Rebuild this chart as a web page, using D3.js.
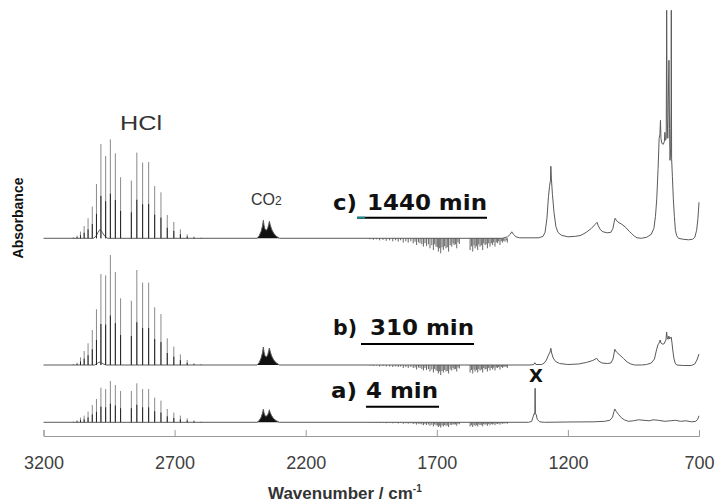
<!DOCTYPE html>
<html><head><meta charset="utf-8">
<script src="https://cdn.jsdelivr.net/npm/d3@7"></script>
<style>body{margin:0;background:#fff}</style>
</head><body>
<svg id="chart" width="716" height="504"></svg>
<script>
// ---------- data (absorbance in mAU, wavenumber in cm-1) ----------
const xTicks = [3200, 2700, 2200, 1700, 1200, 700];
const traceLabels = ["a)", "b)", "c)"];
const traceTimes = ["4 min", "310 min", "1440 min"];
const offsets = [13.7, 71, 197.7];           // stacking offsets of a, b, c

const hclPos = [3086,3072,3059,3045,3030,3014,2998,2981,2963,2945,2926,2906,2865,2844,2822,2799,2776,2752,2728,2703,2678,2652,2626,2599];
const hclA = [0.7,2,4.7,6.7,10.7,17.3,23.3,34.7,33.3,41.3,37.3,31.3,31.3,39,33.3,33.3,24.7,21.7,13.3,9.7,6.7,4,2,0.7];
const hclB = [0.7,2.3,7.7,14,21.7,35,55.7,91,89.7,110,93,66.7,64.3,95,82.3,82.3,57.7,51,26.7,18.3,10.7,5,1.7,0.7];
const hclC = [1,2.7,6.7,12.3,20,31.7,54.3,94.3,82.3,99,85,61,57.7,85.7,75.7,76.3,52.3,46,23.3,16.3,9,4,1.7,0.7];

const waterPos = [1955,1942,1930,1918,1905,1893,1880,1868,1857,1847,1838,1828,1818,1809,1799,1790,1783,1777,1770,1764,1757,1751,1745,1739,1732,1726,1719,1713,1708,1703,1698,1694,1689,1685,1680,1675,1670,1665,1660,1655,1649,1643,1638,1634,1629,1624,1619,1614,
 1573,1568,1563,1558,1554,1549,1544,1540,1535,1530,1525,1521,1516,1512,1507,1502,1497,1492,1487,1483,1478,1473,1468,1464,1459,1454,1449,1445,1440,1435,1431];
const waterA = [0.3,0.5,0.3,0.7,0.5,0.9,0.7,1,0.7,1.2,0.7,1.5,1,1.5,1,1.8,1.2,2.3,1.4,1.8,2.1,2.9,1.8,2.7,2.1,3.5,2.5,4.1,2.1,2.9,3.2,4.7,3.5,5.3,3.2,4.1,2.8,3.5,3.2,4.7,2.5,2.9,1.8,2.3,2.1,3.5,1.4,2,
 4.1,2.8,4.7,2.5,3.5,2.8,4.1,2.1,2.9,2.5,4.1,1.8,2.3,2.1,3.5,1.8,2.9,1.8,2.3,1.4,2.9,1.4,1.8,1,2.3,1,1.5,0.9,1.2,0.7,1.5];
const waterB = [0.5,1,0.5,1.5,1,1.5,1.5,2,1.5,2,1.5,3,2,3,2,3,2.5,4.5,2.5,3,4,5.5,3,5,4,6.5,4.5,7.5,4,5.5,6,8.5,6.5,10,6,7.5,5,6.5,6,8.5,4.5,5.5,3,4.5,4,6.5,2.5,3.5,
 7.5,5,8.5,4.5,6.5,5,7.5,4,5.5,4.5,7.5,3,4.5,4,6.5,3,5.5,3,4.5,2.5,5.5,2.5,3,2,4.5,2,3,1.5,2,1.5,3];
const waterC = [1,1.5,1,2,1.5,2.5,2,3,2,3.3,2,4.3,3,4.3,3,5,3.5,6.7,4,5,6,8.3,5,7.7,6,10,7,11.7,6,8.3,9,13.3,10,15,9,11.7,8,10,9,13.3,7,8.3,5,6.7,6,10,4,5.7,
 11.7,8,13.3,7,10,8,11.7,6,8.3,7,11.7,5,6.7,6,10,5,8.3,5,6.7,4,8.3,4,5,3,6.7,3,4.3,2.5,3.3,2,4.3];

const profileA = [[3200,0],[2960,0],
 [2386,0],[2378,1.5],[2370,5],[2365,9],[2361.5,13],[2359,9.5],[2355,6.5],[2350,6],[2345,7.5],[2341,10],[2338.5,12.5],[2336,10],[2330,6.5],[2322,3.5],[2312,1.5],[2300,0],
 [1350,0],[1338,1],[1332,6],[1328,9],[1326,8],[1325,34],[1324,9],[1321,8],[1317,3],[1308,0.5],[1290,0],[1200,0.3],[1100,0.5],[1060,1],[1040,2],[1030,5],[1024,11],[1021,13.3],[1016,11],[1006,7.5],[996,4.5],[985,2.5],[970,1],[950,1.5],[930,2.5],[910,2],[890,1.5],[875,2.5],[855,2],[830,1],[810,1.5],[790,2],[770,1],[750,1.5],[728,0.5],[712,1],[705,3],[700,6.5]];
const profileB = [[3200,0],[3005,0],[2990,2.5],[2983,3],[2972,1],[2960,0],
 [2386,0],[2378,2],[2370,7],[2365,12],[2361.5,18],[2359,13],[2355,9],[2350,8],[2345,10],[2341,14],[2338.5,17],[2336,14],[2330,9],[2322,5],[2312,2],[2300,0],
 [1345,0],[1330,0.5],[1326,2.3],[1322,0.5],[1300,0.5],[1290,2],[1282,5],[1274,10],[1268,13],[1265,16.7],[1262,12],[1256,7],[1247,3.5],[1232,1.5],[1200,0.5],[1160,1],[1130,2.5],[1105,4.5],[1090,6.7],[1083,4],[1070,2],[1050,1.5],[1036,2],[1028,6],[1021,15.7],[1015,13],[1002,10],[988,6.5],[974,3],[960,1],[945,0],[920,0],[900,0.5],[882,2],[870,6],[863,14],[857,20],[852,22],[848,25],[845,22],[840,21],[834,21],[830,23],[826,25],[823.5,33],[821,27],[818,25.7],[815,29],[812,26],[809,27],[806,28],[803,22],[800,15],[796,7],[791,2],[785,0],[760,-0.5],[730,-0.5],[716,1],[708,5],[700,11]];
const profileC = [[3200,0],[3010,0],[3000,2],[2992,6],[2984,9],[2976,6],[2966,2],[2955,0],
 [2386,0],[2378,2],[2370,7],[2365,12],[2361.5,18],[2359,13],[2355,9],[2350,8],[2345,10],[2341,14],[2338.5,17],[2336,14],[2330,9],[2322,5],[2312,2],[2300,0],
 [1450,0],[1430,1.5],[1420,4],[1414,6.5],[1408,4],[1398,1.5],[1385,0.5],
 [1310,0.5],[1295,2],[1287,6],[1280,20],[1274,42],[1270,52],[1266.5,58],[1265,72],[1263,60],[1259,44],[1253,26],[1246,12],[1238,6],[1225,3],[1200,1.5],[1170,2],[1150,3],[1130,6],[1110,10],[1096,14],[1089,16],[1084,12.5],[1076,8.5],[1066,6.5],[1050,5.5],[1036,6],[1028,10],[1023,17],[1020,20],[1014,17.5],[1005,15.5],[994,14],[980,11],[966,7],[956,4.5],[946,2],[936,0.5],[920,0],[900,1],[882,4],[872,10],[866,22],[861,40],[856,70],[852,100],[849,104],[847,118],[845,100],[842,95],[836,94],[832,97],[830,106],[828,98],[825,100],[823.3,228],[821.5,120],[819,100],[817,140],[814.5,178],[812.5,110],[810.5,78],[808,90],[806.5,130],[805.6,228],[804.5,80],[801.5,62],[798,40],[794,22],[790,8],[785,2.5],[778,0],[760,-1],[740,-1.5],[725,-1],[716,1],[709,8],[704,20],[700,36]];

const traces = [
  {profile: profileA, hcl: hclA, water: waterA, off: offsets[0]},
  {profile: profileB, hcl: hclB, water: waterB, off: offsets[1]},
  {profile: profileC, hcl: hclC, water: waterC, off: offsets[2]}
];

// ---------- drawing ----------
const svg = d3.select("#chart");
svg.append("rect").attr("width",716).attr("height",504).attr("fill","#fff");
const x = d3.scaleLinear().domain([3200, 700]).range([43.5, 699]);
const y = d3.scaleLinear().domain([0, 436]).range([436, 0]);

// axis
const axis = d3.axisBottom(x).tickValues(xTicks).tickSize(-6).tickPadding(20).tickFormat(d3.format("d"));
const gAxis = svg.append("g").attr("transform","translate(0,436)").call(axis);
gAxis.selectAll("path,line").attr("stroke","#9a9a9a").attr("stroke-width",1);
gAxis.selectAll("text").attr("font-family","'Liberation Sans', Arial, sans-serif").attr("font-size",18).attr("fill","#404040");

traces.forEach(t => {
  const g = svg.append("g");
  // CO2 band (filled)
  const co2 = t.profile.filter(d => d[0] <= 2386 && d[0] >= 2300);
  g.append("path").datum(co2)
    .attr("d", d3.area().x(d=>x(d[0])).y0(y(t.off)).y1(d=>y(t.off+d[1])))
    .attr("fill","#111");
  // continuous profile
  g.append("path").datum(t.profile)
    .attr("d", d3.line().x(d=>x(d[0])).y(d=>y(t.off+d[1])))
    .attr("fill","none").attr("stroke","#5a5a5a").attr("stroke-width",1);
  // HCl rotational lines
  g.selectAll(".hclUp").data(hclPos).join("line")
    .attr("x1",(d)=>x(d)).attr("x2",(d)=>x(d))
    .attr("y1", y(t.off)).attr("y2",(d,i)=>y(t.off+t.hcl[i]))
    .attr("stroke","#8a8a8a").attr("stroke-width",1);
  g.selectAll(".hclLow").data(hclPos).join("line")
    .attr("x1",(d)=>x(d)).attr("x2",(d)=>x(d))
    .attr("y1", y(t.off)).attr("y2",(d,i)=>y(t.off+t.hcl[i]*0.45))
    .attr("stroke","#222").attr("stroke-width",1);
  // water vapour residual lines (negative)
  g.selectAll(".water").data(waterPos).join("line")
    .attr("x1",(d)=>x(d)).attr("x2",(d)=>x(d))
    .attr("y1", y(t.off)).attr("y2",(d,i)=>y(t.off - t.water[i]))
    .attr("stroke","#555").attr("stroke-width",0.9);
});

// annotations
const txt = (s, xx, yy, opts={}) => {
  const el = svg.append("text").attr("x",xx).attr("y",yy).text(s)
    .attr("font-family", opts.ff || "'Liberation Sans', Arial, sans-serif")
    .attr("font-size", opts.fs || 16).attr("font-weight", opts.fw || "normal")
    .attr("fill", opts.fill || "#222").attr("text-anchor", opts.anchor || "start");
  if (opts.len) el.attr("textLength", opts.len).attr("lengthAdjust","spacingAndGlyphs");
  return el;
};

txt("HCl", 120, 130, {fs: 21, fill:"#333", len: 42});
const co2t = txt("CO", 251, 205, {fs: 16, fill:"#333"});
co2t.append("tspan").attr("font-size",12).text("2");

const vf = "'DejaVu Sans', Verdana, sans-serif";
const labelY = [397.5, 335, 210];
const labelLX = [331, 333, 333];
const labelLW = [26, 24, 24];
const labelTX = [366, 370, 367];
const labelTW = [72, 104, 120];
const ulY = [406.7, 344, 217.7];
const ulX1 = [366, 361, 357];
const ulX2 = [439, 474, 487];
traceLabels.forEach((l,i) => {
  txt(l, labelLX[i], labelY[i], {ff: vf, fs: 21, fw:"bold", fill:"#111", len: labelLW[i]});
  txt(traceTimes[i], labelTX[i], labelY[i], {ff: vf, fs: 21, fw:"bold", fill:"#111", len: labelTW[i]});
  svg.append("line").attr("x1",ulX1[i]).attr("x2",ulX2[i]).attr("y1",ulY[i]).attr("y2",ulY[i])
    .attr("stroke","#000").attr("stroke-width",2);
});
svg.append("line").attr("x1",357).attr("x2",365).attr("y1",217.7).attr("y2",217.7).attr("stroke","#1a8a8a").attr("stroke-width",2);

txt("X", 536, 382, {ff: vf, fs: 18, fw:"bold", anchor:"middle", fill:"#111"});

const xt = txt("Wavenumber / cm", 268, 499, {fs: 17, fw:"bold", fill:"#333"});
xt.append("tspan").attr("font-size",10).attr("dy",-7).text("-1");
svg.append("text").attr("transform","translate(23,218) rotate(-90)").attr("text-anchor","middle")
  .attr("font-family","'Liberation Sans', Arial, sans-serif").attr("font-size",14).attr("font-weight","bold")
  .attr("fill","#111").text("Absorbance");
</script>
</body></html>
